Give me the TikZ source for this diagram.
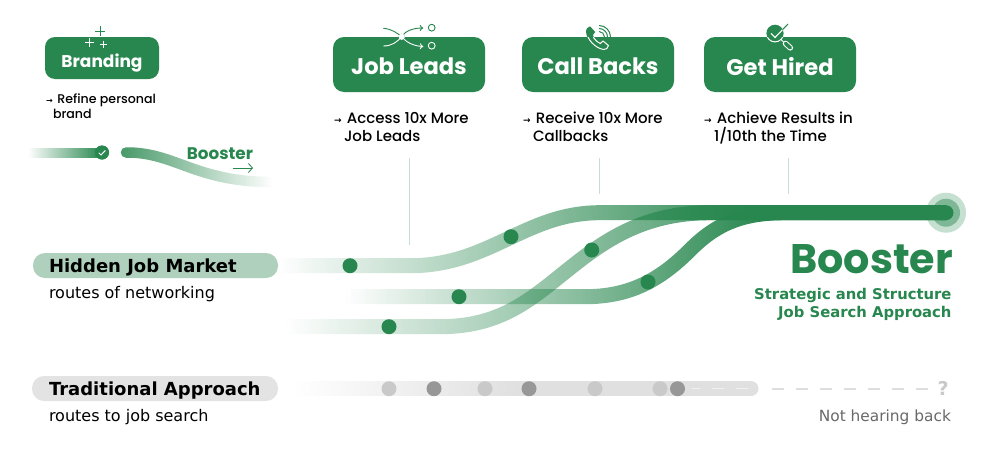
\documentclass[tikz,border=0pt]{standalone}
\usepackage{fontspec}
\usetikzlibrary{fadings,arrows.meta}
\setmainfont{Poppins}
\newfontfamily\medfont{Poppins Medium}
\newfontfamily\versans{DejaVu Sans}
\definecolor{brandgreen}{RGB}{39,135,78}
\definecolor{pillgreen}{RGB}{174,208,188}
\definecolor{pillgray}{RGB}{227,227,227}
\definecolor{trackgray}{RGB}{224,224,224}
\definecolor{dotlight}{RGB}{201,201,201}
\definecolor{dotdark}{RGB}{151,151,151}
\definecolor{ruleline}{RGB}{197,224,208}
\definecolor{dashgray}{RGB}{222,222,222}
\definecolor{dashpale}{RGB}{240,240,240}
\definecolor{mutedtext}{RGB}{105,105,105}
\tikzset{
  every node/.style={inner sep=0pt,outer sep=0pt},
  stagebox/.style={fill=brandgreen,rounded corners=11pt,minimum width=152pt,minimum height=55pt,anchor=center},
  stagetext/.style={text=white,font=\bfseries\fontsize{22.6}{23}\selectfont},
  bullettext/.style={anchor=base west,font=\medfont\fontsize{15}{15}\selectfont,text=black},
  smallbullet/.style={anchor=base west,font=\medfont\fontsize{12.6}{13}\selectfont,text=black},
  road/.style={line width=15pt,draw=brandgreen,fit fading=false,fading transform={shift={(500pt,-225pt)}}},
  stop/.style={circle,fill=brandgreen,minimum size=15pt},
  graystop/.style={circle,fill=dotlight,minimum size=15pt},
  graystopdark/.style={circle,fill=dotdark,minimum size=15pt},
  pill/.style={rounded corners=12pt,minimum height=25pt,minimum width=245pt,anchor=west},
  ruling/.style={ruleline,line width=1pt},
  pilltext/.style={anchor=base west,font=\versans\bfseries\fontsize{18}{18}\selectfont,text=black},
  subtext/.style={anchor=base west,font=\versans\fontsize{16}{16}\selectfont,text=black},
  tagline/.style={anchor=base east,font=\versans\bfseries\fontsize{14.8}{15}\selectfont,text=brandgreen},
  dashseg/.style={dashgray,line width=1.7pt},
  paleseg/.style={dashpale,line width=1.5pt},
}
% Horizontal alpha ramp over a 1000pt-wide sheet
\newcommand{\rampfading}[3]{%
  \begin{tikzfadingfrompicture}[name=#1,x=1pt,y=-1pt]
    \fill[transparent!100] (0,0) rectangle (1000,450);
    \shade[left color=transparent!100,right color=transparent!0] (#2,0) rectangle (#3,450);
    \fill[transparent!0] (#3,0) rectangle (1000,450);
  \end{tikzfadingfrompicture}}
\rampfading{rampA}{278}{770}
\rampfading{rampB}{345}{770}
\rampfading{rampC}{285}{830}
\rampfading{rampK}{28}{102}
\rampfading{rampG}{295}{520}
\begin{tikzfadingfrompicture}[name=rampBack,x=1pt,y=-1pt]
  \fill[transparent!0] (0,0) rectangle (120,450);
  \shade[left color=transparent!15,right color=transparent!100] (120,0) rectangle (272,450);
  \fill[transparent!100] (272,0) rectangle (1000,450);
\end{tikzfadingfrompicture}
\begin{document}
\begin{tikzpicture}[x=1pt,y=-1pt]
\useasboundingbox (0,0) rectangle (1000,450);
\fill[white] (0,0) rectangle (1000,450);

% Stage boxes
\node[stagebox,minimum width=114pt,minimum height=42pt,rounded corners=10pt] (branding) at (102,58) {};
\node[text=white,font=\bfseries\fontsize{17}{17}\selectfont] (brandingtext) at (102,63.5) {Branding};
\node[stagebox] (leads) at (409,64.5) {};
\node[stagetext] (leadstext) at (409,66.5) {Job Leads};
\node[stagebox] (calls) at (598,64.5) {};
\node[stagetext] (callstext) at (598,66.5) {Call Backs};
\node[stagebox] (hired) at (780,64.5) {};
\node[stagetext] (hiredtext) at (780,66.5) {Get Hired};

% Icons: drawn green, then redrawn white where they overlap a box
\newcommand{\plusmarks}{%
  \draw (95,31) -- (105,31) (100,26) -- (100,36);
  \draw (85,42) -- (94,42) (89.5,37.5) -- (89.5,46.5);
  \draw (100,44) -- (107,44) (103.5,40.5) -- (103.5,47.5);}
\begin{scope}[brandgreen,line width=0.9pt]\plusmarks\end{scope}
\begin{scope}
  \clip[rounded corners=10pt] (45,37) rectangle (159,79);
  \begin{scope}[white,line width=0.9pt]\plusmarks\end{scope}
\end{scope}

\newcommand{\leadmarks}[1]{%
  \draw[#1,line width=0.9pt,-{To[length=3.5pt,width=6pt]}] (383.3,28.3) .. controls (392,29) and (397,33) .. (401.7,36.7) .. controls (405,31) and (413,28) .. (423.3,28);
  \draw[#1,line width=0.9pt,-{To[length=3.5pt,width=6pt]}] (383.3,46) .. controls (392,46) and (397,42) .. (401.7,36.7) .. controls (406,42) and (413,46) .. (423.3,46.5);
  \draw[#1,line width=0.9pt] (431.7,27.7) circle[radius=3.4];
  \draw[#1,line width=0.9pt] (431.7,45.7) circle[radius=3.4];
  \fill[#1] (401.7,36.7) circle[radius=3];}
\leadmarks{brandgreen}
\begin{scope}
  \clip[rounded corners=11pt] (333,37) rectangle (485,92);
  \leadmarks{white}
\end{scope}
\fill[white] (401.7,36.7) circle[radius=3];

\newcommand{\phoneshape}{(590,27) -- (594.5,32) -- (592.3,35.2) .. controls (594,39) and (597,42) .. (600.3,43.5) -- (603,41) -- (608.5,45.5) .. controls (608,48) and (606,50) .. (603.5,49.5) .. controls (595,48) and (586.5,39) .. (586.5,31) .. controls (586.5,29) and (588,27.5) .. (590,27) -- cycle}
\fill[brandgreen,draw=brandgreen,line width=1pt] \phoneshape;
\begin{scope}
  \clip[rounded corners=11pt] (522,37) rectangle (674,92);
  \draw[white,line width=1pt] \phoneshape;
\end{scope}
\foreach \r in {5.5,8.5,11.5}{
  \draw[brandgreen,line width=1pt] (599,37-\r) .. controls (599+.55*\r,37-\r) and (599+\r,37-.55*\r) .. (599+\r,37);
}

\fill[brandgreen] (775,33.3) circle[radius=8.6];
\begin{scope}
  \clip[rounded corners=11pt] (704,37) rectangle (856,92);
  \draw[white,line width=1pt] (775,33.3) circle[radius=8.6];
\end{scope}
\draw[brandgreen,line width=1pt] (771,33.3) -- (775,37.5) -- (788,24);
\begin{scope}
  \clip (775,33.3) circle[radius=8.2];
  \draw[white,line width=1.1pt] (771,33.3) -- (775,37.5) -- (788,24);
\end{scope}
\draw[white,line width=1pt] (781,39.5) -- (784.5,43);
\draw[white,line width=5.6pt,line cap=round] (785.5,43.5) -- (790.3,47.8);
\draw[brandgreen,line width=3.6pt,line cap=round] (785.5,43.5) -- (790.3,47.8);

% Captions
\newcommand{\arrowmark}[1]{{\versans\bfseries\fontsize{#1}{#1}\selectfont →}\hspace{1.5pt}}
\node[smallbullet] (capbrandA) at (46,103) {\arrowmark{8} Refine personal};
\node[smallbullet] (capbrandB) at (53,118) {brand};
\node[bullettext] (capleadsA) at (334,123) {\arrowmark{9} Access 10x More};
\node[bullettext] (capleadsB) at (344,141) {Job Leads};
\node[bullettext] (capcallsA) at (523,123) {\arrowmark{9} Receive 10x More};
\node[bullettext] (capcallsB) at (533,141) {Callbacks};
\node[bullettext] (caphiredA) at (704,123) {\arrowmark{9} Achieve Results in};
\node[bullettext] (caphiredB) at (714,141) {1/10th the Time};

% Legend: plain stretch and the curving booster stretch
\coordinate (legstart) at (28,152.5);
\node[circle,fill=brandgreen,minimum size=14pt] (legstop) at (102,152.5) {};
\coordinate (curvestart) at (126,152.5);
\coordinate (curveend) at (272,182);
\draw[line width=10pt,brandgreen,path fading=rampK,fit fading=false,fading transform={shift={(500pt,-225pt)}}] (legstart) -- (legstop.center);
\node[circle,fill=brandgreen,minimum size=14pt] at (legstop) {};
\draw[white,line width=1pt] (98.8,152.8) -- (101,155) -- (105.3,150.5);
\draw[line width=10.5pt,brandgreen,line cap=round,path fading=rampBack,fit fading=false,fading transform={shift={(500pt,-225pt)}}]
  (curvestart) .. controls (175,152) and (195,182) .. (curveend);
\node[anchor=base east,font=\bfseries\fontsize{16.8}{17}\selectfont,text=brandgreen] (legbooster) at (253,159) {Booster};
\coordinate (legarrowa) at (233,168);
\coordinate (legarrowb) at (253,168);
\draw[brandgreen,line width=0.8pt,-{Straight Barb[length=4pt,width=9pt]}] (legarrowa) -- (legarrowb);

% Rules from the captions down to the roads
\coordinate (ruleAa) at (409,158); \coordinate (ruleAb) at (409,245);
\coordinate (ruleBa) at (599,158); \coordinate (ruleBb) at (599,194);
\coordinate (ruleCa) at (788,158); \coordinate (ruleCb) at (788,194);
\draw[ruling] (ruleAa) -- (ruleAb);
\draw[ruling] (ruleBa) -- (ruleBb);
\draw[ruling] (ruleCa) -- (ruleCb);

% Target halo
\node[circle,fill=ruleline,minimum size=40pt] (haloOuter) at (946,212.7) {};
\node[circle,fill=brandgreen!60,minimum size=28pt] (haloInner) at (946,212.7) {};

% Three roads converging on the target
\coordinate (roadAstart) at (278,265.7);
\coordinate (roadBstart) at (345,296.7);
\coordinate (roadCstart) at (285,326.7);
\coordinate (roadend) at (946,212.7);
\path[road,path fading=rampA]
  (roadAstart) -- (410,265.7) .. controls (490,265.7) and (525,212.7) .. (600,212.7) -- (roadend);
\path[road,path fading=rampB]
  (roadBstart) -- (585,296.7) .. controls (630,296.7) and (660,280) .. (690,250) .. controls (715,225) and (740,212.7) .. (785,212.7) -- (roadend);
\path[road,path fading=rampC]
  (roadCstart) -- (440,326.7) .. controls (500,326.7) and (530,300) .. (565,272) .. controls (600,244) and (640,212.7) .. (710,212.7) -- (roadend);
% Solid round tip of the merged road
\fill[brandgreen] (roadend) ++(0,-7.5) arc[start angle=-90,end angle=90,radius=7.5] -- ++(-6,0) -- ++(0,-15) -- cycle;

\node[stop] (stopA1) at (350,265.7) {};
\node[stop] (stopA2) at (511,236.7) {};
\node[stop] (stopB1) at (459,296.7) {};
\node[stop] (stopB2) at (648,282) {};
\node[stop] (stopC1) at (389,326.7) {};
\node[stop] (stopC2) at (591.7,250) {};

% Outcome text
\node[anchor=base east,font=\bfseries\fontsize{41.3}{42}\selectfont,text=brandgreen] (boostertitle) at (953,273) {Booster};
\node[tagline] (tagA) at (951.5,299) {Strategic and Structure};
\node[tagline] (tagB) at (951.5,317) {Job Search Approach};

% Route labels
\node[pill,fill=pillgreen] (hiddenpill) at (33,265.5) {};
\node[pilltext] (hiddentext) at (49,272) {Hidden Job Market};
\node[subtext] (hiddensub) at (49,298) {routes of networking};
\node[pill,fill=pillgray,minimum width=246pt] (tradpill) at (32,388.5) {};
\node[pilltext] (tradtext) at (49,395) {Traditional Approach};
\node[subtext] (tradsub) at (49,421) {routes to job search};

% Traditional route and its dead end
\coordinate (graystart) at (295,388.7);
\coordinate (grayend) at (751,388.7);
\draw[line width=15pt,trackgray,line cap=round,path fading=rampG,fit fading=false,fading transform={shift={(500pt,-225pt)}}] (graystart) -- (grayend);
\foreach \xa/\xb in {692/700,712/724,736/748}{
  \draw[paleseg] (\xa,388.7) -- (\xb,388.7);
}
\foreach \xa in {772,796,820,844,868,892,916}{
  \draw[dashseg] (\xa,388.7) -- (\xa+12,388.7);
}
\node[graystop] (g1) at (389,388.7) {};
\node[graystopdark] (g2) at (434,388.7) {};
\node[graystop] (g3) at (485,388.7) {};
\node[graystopdark] (g4) at (529,388.7) {};
\node[graystop] (g5) at (595,388.7) {};
\node[graystop] (g6) at (660,388.7) {};
\node[graystopdark] (g7) at (677.5,388.7) {};
\node[anchor=base,font=\versans\bfseries\fontsize{19}{19}\selectfont,text=dotlight] (qmark) at (943,395.5) {?};
\node[anchor=base east,font=\versans\fontsize{15.4}{15}\selectfont,text=mutedtext] (nohear) at (951,421.5) {Not hearing back};
\end{tikzpicture}
\end{document}
